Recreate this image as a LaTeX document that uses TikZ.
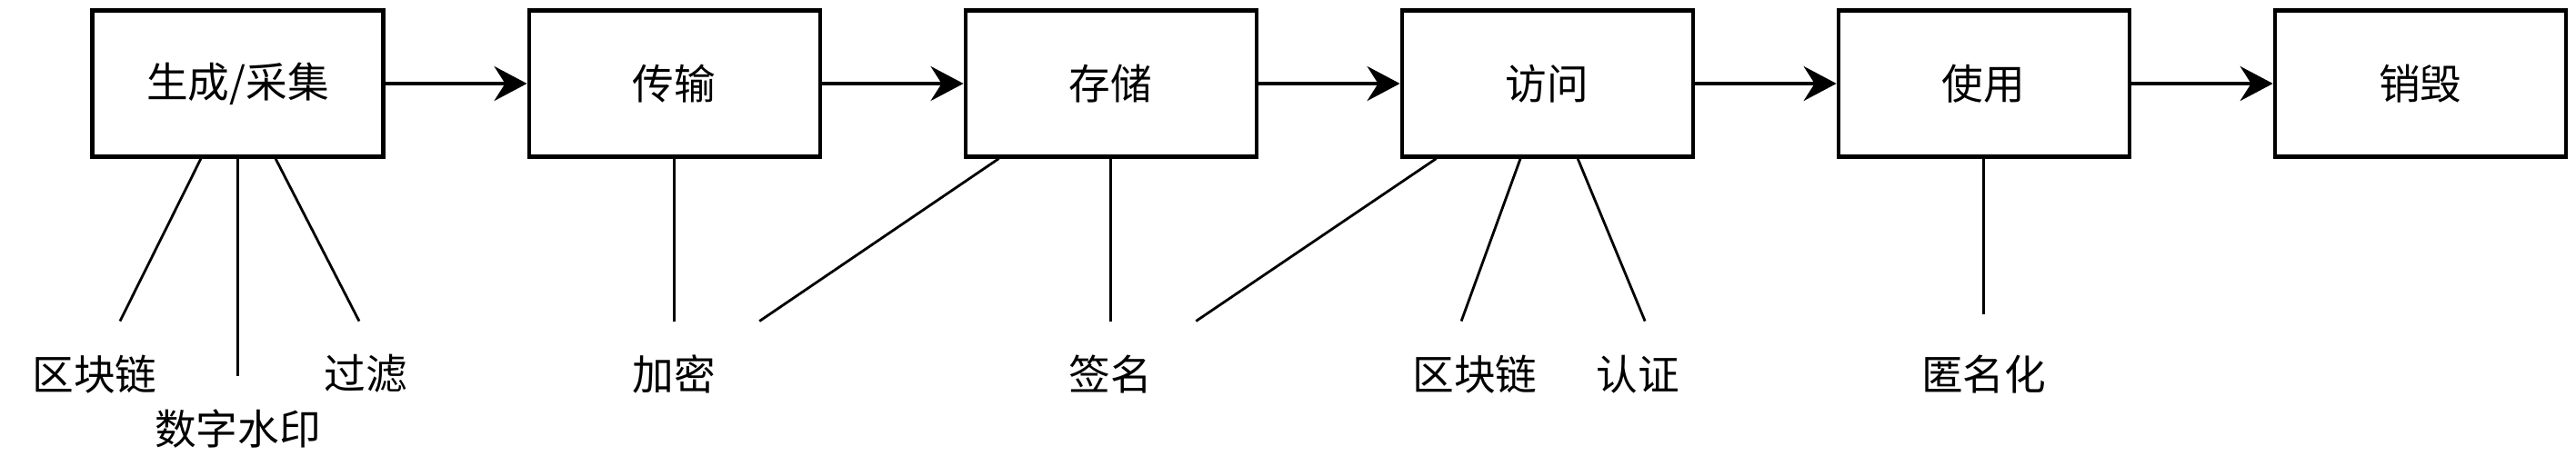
\documentclass[tikz,border=0pt]{standalone}
\usepackage{fontspec}
\newfontfamily\cjk{Noto Sans CJK SC}
\usetikzlibrary{arrows.meta,positioning}
\tikzset{
  stage/.style={draw=black, line width=1.15pt, minimum width=32mm, minimum height=16.1mm, inner sep=0pt, font=\cjk\fontsize{13}{15}\selectfont},
  tag/.style={minimum width=18.6mm, minimum height=11.5mm, inner sep=0pt, font=\cjk\fontsize{13}{15}\selectfont},
  arrow/.style={-{Stealth[length=3.6mm, width=3.8mm, inset=1.2mm]}, line width=1.15pt},
  link/.style={line width=0.8pt}
}
\begin{document}
\begin{tikzpicture}[node distance=15.6mm]
\useasboundingbox (0,0) rectangle (283.3mm,-50.1mm);
\node[stage] (gen) at (26.15mm,-9.2mm) {生成/采集};
\node[stage, right=of gen] (trans) {传输};
\node[stage, right=of trans] (store) {存储};
\node[stage, right=of store] (access) {访问};
\node[stage, right=of access] (use) {使用};
\node[stage, right=of use] (destroy) {销毁};

\draw[arrow] (gen) -- (trans);
\draw[arrow] (trans) -- (store);
\draw[arrow] (store) -- (access);
\draw[arrow] (access) -- (use);
\draw[arrow] (use) -- (destroy);

% 各阶段下方的安全技术
\node[tag, below=17.9mm of gen, xshift=-15.75mm] (chain1) {区块链};
\node[tag, below=23.95mm of gen] (mark) {数字水印};
\node[tag, below=17.9mm of gen, xshift=14.05mm] (filt) {过滤};
\node[tag, below=17.9mm of trans] (enc) {加密};
\node[tag, below=17.9mm of store] (sig) {签名};
\node[tag, below=17.9mm of access, xshift=-7.95mm] (chain2) {区块链};
\node[tag, below=17.9mm of access, xshift=9.95mm] (cert) {认证};
\node[tag, below=17.9mm of use] (anon) {匿名化};

\draw[link] ([xshift=-4.05mm]gen.south) -- ([xshift=2.8mm]chain1.north);
\draw[link] (gen.south) -- (mark.north);
\draw[link] ([xshift=4.15mm]gen.south) -- ([xshift=-0.7mm]filt.north);
\draw[link] (trans.south) -- (enc.north);
\draw[link] ([xshift=3.9mm]store.south west) -- (enc.north east);
\draw[link] (store.south) -- (sig.north);
\draw[link] ([xshift=4mm]access.south west) -- (sig.north east);
\draw[link] ([xshift=-2.95mm]access.south) -- ([xshift=-1.5mm]chain2.north);
\draw[link] ([xshift=3.35mm]access.south) -- ([xshift=0.8mm]cert.north);
\draw[link, shorten >=0.8mm] (use.south) -- (anon.north);
\end{tikzpicture}
\end{document}
